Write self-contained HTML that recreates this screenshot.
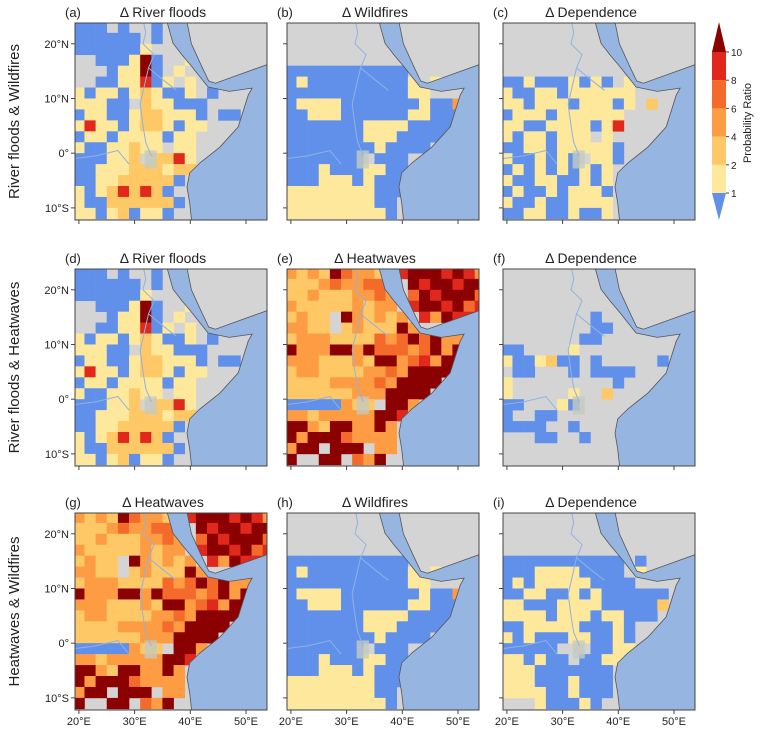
<!DOCTYPE html>
<html><head><meta charset="utf-8">
<style>
body{margin:0;background:#fff;width:760px;height:732px;overflow:hidden;font-family:"Liberation Sans",sans-serif;}
svg text{font-family:"Liberation Sans","DejaVu Sans",sans-serif;fill:#222;}
</style></head>
<body>
<svg id="fig" width="760" height="732" viewBox="0 0 760 732" xmlns="http://www.w3.org/2000/svg"></svg>
<script>
// ---- data: 2-degree grid categories, rows lat 24→-12, cols lon 19→55 ----
// '.' no data, 'b' <1, 'y' 1-2, 'o' 2-4, 'O' 4-6, 'r' 6-8, 'R' 8-10, 'd' >10
const gridRiverFloods = [
"bbb.b..b..........","bbbbbb.b..........","bbbbbby...........","..bbbydb..y.......",
"...byydb.y........","..bbyyRby.y.......","ybyybyoybby.b.....","yyybb.oyybbb.....b",
"byybbyooyyyb.bb...","yRyybyooybyy...b..","byybyyyybyy....b..","ybbyyoyy.yy.......",
"bbbyyo.ooRy.......","bbyyyoooyoo.......","bbyyooooob........","ybyoRoRob.........",
"ybboooooob........","yybyobyyb........."];
const gridWildfires = [
"..................","..................","..................","..................",
"bbbbbbbbbbb.......","bybbbbbbbbby.y....","bbbbbbbbbbbyy.....","byyyybbbbbbbybbOR.",
"bbyyybbbbbbyybbbb.","bbbbbbbyyyybbbbb..","bbbbbbbyyybbbbb...","bbbbbbbbybbbb.....",
"bbbbbbb.bbb.......","bbbybbbyybb.......","bbbyyybybbb.......","yyyyyyyybbb.......",
"yyyyyyyybb........","yyyyyyyyyb........"];
const gridDepRFWF = [
"..................","..................","..................","..................",
"..................","bbybbbybyb.y......","ybbyybyyyyyy......","yybyyybyyyby.o....",
"byyybyyyyyy.......","yybbyyyybyR.......","ybyybyyy.y........","bbyybyyyyyb.......",
"ybbybyb.yyb.......","bybybybyby........","ybbyybbyby........","bybbybyyyb........",
"ybbybbyyyy........","bbyybbybby........"];
const gridHeatwaves = [
"OoOodrOOodRdddRdRO","oooOrOOrrR.dRddRdd","ooOoooOOrO.rdRdddr","OoooooOoOO.RddRdrR",
"oOoo.dOoOoO.ROdRR.","OOoo.oOooodO......","oOOOoooorOrdrdOO..","dOOOddOdrrrOrdOdd.",
"OOOoooOoddOrROdd..","oOOooooOOrOdddd...","ooooOOOOrOdddd....","ooooooOOOdddd.....",
"bbbbbOoo.ddO......","OOoOOOOOddR.......","ddOoddOOdO........","dOdddrOOOO........",
"Odd.ddd.OO........","d..dd.rOd........."];
const gridDepRFHW = [
"..................","..................","..................","..................",
"........b.........","........bb........",".......bb.........","bb....y...........",
"ybbyobb.b.....b...",".bb...b.bbbb......","y.........b.......","y.....y..o........",
"bb...yb...........","b..bb.............","bbbb..b...........","...bb..b..........",
"..................",".................."];
const gridDepHWWF = [
"..................","..................","..................","..................",
"bbbbbbbbbbb.b.....","bbbyyyybbbb.y.....","bybyyyyybbbb......","bbyybbybybbbbbb...",
"yybbbyyyybbbbbo...","yyyybyyybyybbb....","bbyyyyybbbyb......","ybybbbyybbyb......",
"bbbbb...bbyy......","yybybb.bbyy.......","yyybbbbbbb........","yyybbbybbb........",
"yyyybbybbb........","...ybbbyb........."];
const catKeys = ['.','b','y','o','O','r','R','d'];
const catColors = ['#d4d4d4','#6090ea','#fee89c','#fec866','#fd9c42','#f46a2a','#e1281d','#8b0000'];
const panelLetters = ['a','b','c','d','e','f','g','h','i'];
const panelTitles = ['Δ River floods','Δ Wildfires','Δ Dependence','Δ River floods','Δ Heatwaves','Δ Dependence','Δ Heatwaves','Δ Wildfires','Δ Dependence'];
const panelGrids = [gridRiverFloods,gridWildfires,gridDepRFWF,gridRiverFloods,gridHeatwaves,gridDepRFHW,gridHeatwaves,gridWildfires,gridDepHWWF];
const rowLabels = ['River floods & Wildfires','River floods & Heatwaves','Heatwaves & Wildfires'];
const latTicks = [20,10,0,-10];
const latTickLabels = ['20°N','10°N','0°','10°S'];
const lonTicks = [20,30,40,50];
const lonTickLabels = ['20°E','30°E','40°E','50°E'];
const cbLevels = [1,2,4,6,8,10];
const cbLabels = ['1','2','4','6','8','10'];
const oceanPoly = [[35.7,24.5],[36.9,20.1],[38.5,18],[40.3,15.8],[43.2,12.1],[47,11.3],[51.1,11.9],[50.4,10.6],[48.6,4.8],[45.3,1.1],[41.7,-1.8],[39.9,-3.6],[39.4,-6.2],[39.9,-9.1],[40.3,-13],[56,-13],[56,17],[44.5,12.8],[43.3,13.2],[42,16],[40.2,20],[39.3,24.5]];
const nile = [[33,-0.5],[32,2],[31.5,5],[31,9],[32.5,15.6],[33.5,18],[31.5,20],[32,22],[31.5,24.5]];
const blueNile = [[37.5,11.5],[35,13.5],[32.5,15.6]];
const congo = [[19,-1],[23,-0.5],[27,0.5],[29,-2]];

const NS='http://www.w3.org/2000/svg';
const svg=document.getElementById('fig');
function mk(tag,attrs,parent){const e=document.createElementNS(NS,tag);for(const k in attrs)e.setAttribute(k,attrs[k]);(parent||svg).appendChild(e);return e;}
const colX=[75,287,503], rowY=[23,269,513], PW=192, PH=197;
const LON0=19.3, LAT0=23.8, SX=5.57, SY=5.47;

panelGrids.forEach((grid,p)=>{
  const r=Math.floor(p/3), c=p%3, x0=colX[c], y0=rowY[r];
  const xs=lon=>x0+(lon-LON0)*SX, ys=lat=>y0+(LAT0-lat)*SY;
  const g=mk('g',{});
  
  
  const cp=mk('clipPath',{id:'clip'+p},g); mk('rect',{x:x0,y:y0,width:PW,height:PH},cp);
  const inner=mk('g',{'clip-path':'url(#clip'+p+')'},g);
  mk('rect',{x:x0,y:y0,width:PW,height:PH,fill:'#d4d4d4'},inner);
  grid.forEach((row,j)=>{
    const latTop=24-2*j;
    for(let i=0;i<row.length;i++){
      const k=catKeys.indexOf(row[i]); if(k<=0) continue;
      const lon=19+2*i;
      const cell=mk('rect',{x:xs(lon),y:ys(latTop),width:xs(lon+2)-xs(lon)+0.3,height:ys(latTop-2)-ys(latTop)+0.3,fill:catColors[k]},inner);
      
      
    }
  });
  mk('rect',{x:xs(31.8),y:ys(0.5),width:xs(34)-xs(31.8),height:ys(-2.8)-ys(0.5),fill:'#c4cbbf',opacity:0.8},inner);
  const pts=a=>a.map(q=>xs(q[0]).toFixed(1)+','+ys(q[1]).toFixed(1)).join(' ');
  [nile,blueNile,congo].forEach(rv=>mk('polyline',{points:pts(rv),fill:'none',stroke:'#8fb2e4','stroke-width':1},inner));
  const oc=mk('polygon',{points:pts(oceanPoly),fill:'#97b5e1',stroke:'#555','stroke-width':0.8},inner);
  
  
  mk('rect',{x:x0,y:y0,width:PW,height:PH,fill:'none',stroke:'#444','stroke-width':1},g);
  latTicks.forEach((lt,ti)=>{
    mk('line',{x1:x0-4,x2:x0,y1:ys(lt),y2:ys(lt),stroke:'#444'},g);
    if(c===0){const t=mk('text',{x:x0-6,y:ys(lt)+4,'text-anchor':'end','font-size':11},g);t.textContent=latTickLabels[ti];
      
      }
  });
  lonTicks.forEach((ln,ti)=>{
    mk('line',{x1:xs(ln),x2:xs(ln),y1:y0+PH,y2:y0+PH+4,stroke:'#444'},g);
    if(r===2){const t=mk('text',{x:xs(ln),y:y0+PH+15,'text-anchor':'middle','font-size':11},g);t.textContent=lonTickLabels[ti];
      
      }
  });
  const lt=mk('text',{x:x0-10,y:y0-6,'font-size':13},g); lt.textContent='('+panelLetters[p]+')';
  
  
  const tt=mk('text',{x:x0+PW/2-8,y:y0-6,'text-anchor':'middle','font-size':14},g); tt.textContent=panelTitles[p];
  
  
});
rowLabels.forEach((lb,r)=>{
  const cy=rowY[r]+PH/2;
  const t=mk('text',{x:0,y:0,transform:'translate(19,'+cy+') rotate(-90)','text-anchor':'middle','font-size':15});
  t.textContent=lb;
  
  
});
// colorbar
const cbX=712, cbW=14;
const cbY=v=>{const idx=cbLevels.indexOf(v);return 193-idx*28.2;};
const cb=mk('g',{});


for(let i=0;i<cbLevels.length-1;i++){
  mk('rect',{x:cbX,y:cbY(cbLevels[i+1]),width:cbW,height:cbY(cbLevels[i])-cbY(cbLevels[i+1]),fill:catColors[i+2]},cb);
}
mk('polygon',{points:`${cbX},${cbY(10)} ${cbX+cbW},${cbY(10)} ${cbX+cbW/2},22`,fill:catColors[7]},cb);
mk('polygon',{points:`${cbX},${cbY(1)} ${cbX+cbW},${cbY(1)} ${cbX+cbW/2},220`,fill:catColors[1]},cb);
cbLevels.forEach((v,i)=>{
  mk('line',{x1:cbX+cbW,x2:cbX+cbW+3,y1:cbY(v),y2:cbY(v),stroke:'#444'},cb);
  const t=mk('text',{x:cbX+cbW+5,y:cbY(v)+4,'font-size':10},cb); t.textContent=cbLabels[i];
  
  
});
const ct=mk('text',{x:0,y:0,transform:'translate(751,123) rotate(-90)','text-anchor':'middle','font-size':11},cb);
ct.textContent='Probability Ratio';


</script>
</body></html>
